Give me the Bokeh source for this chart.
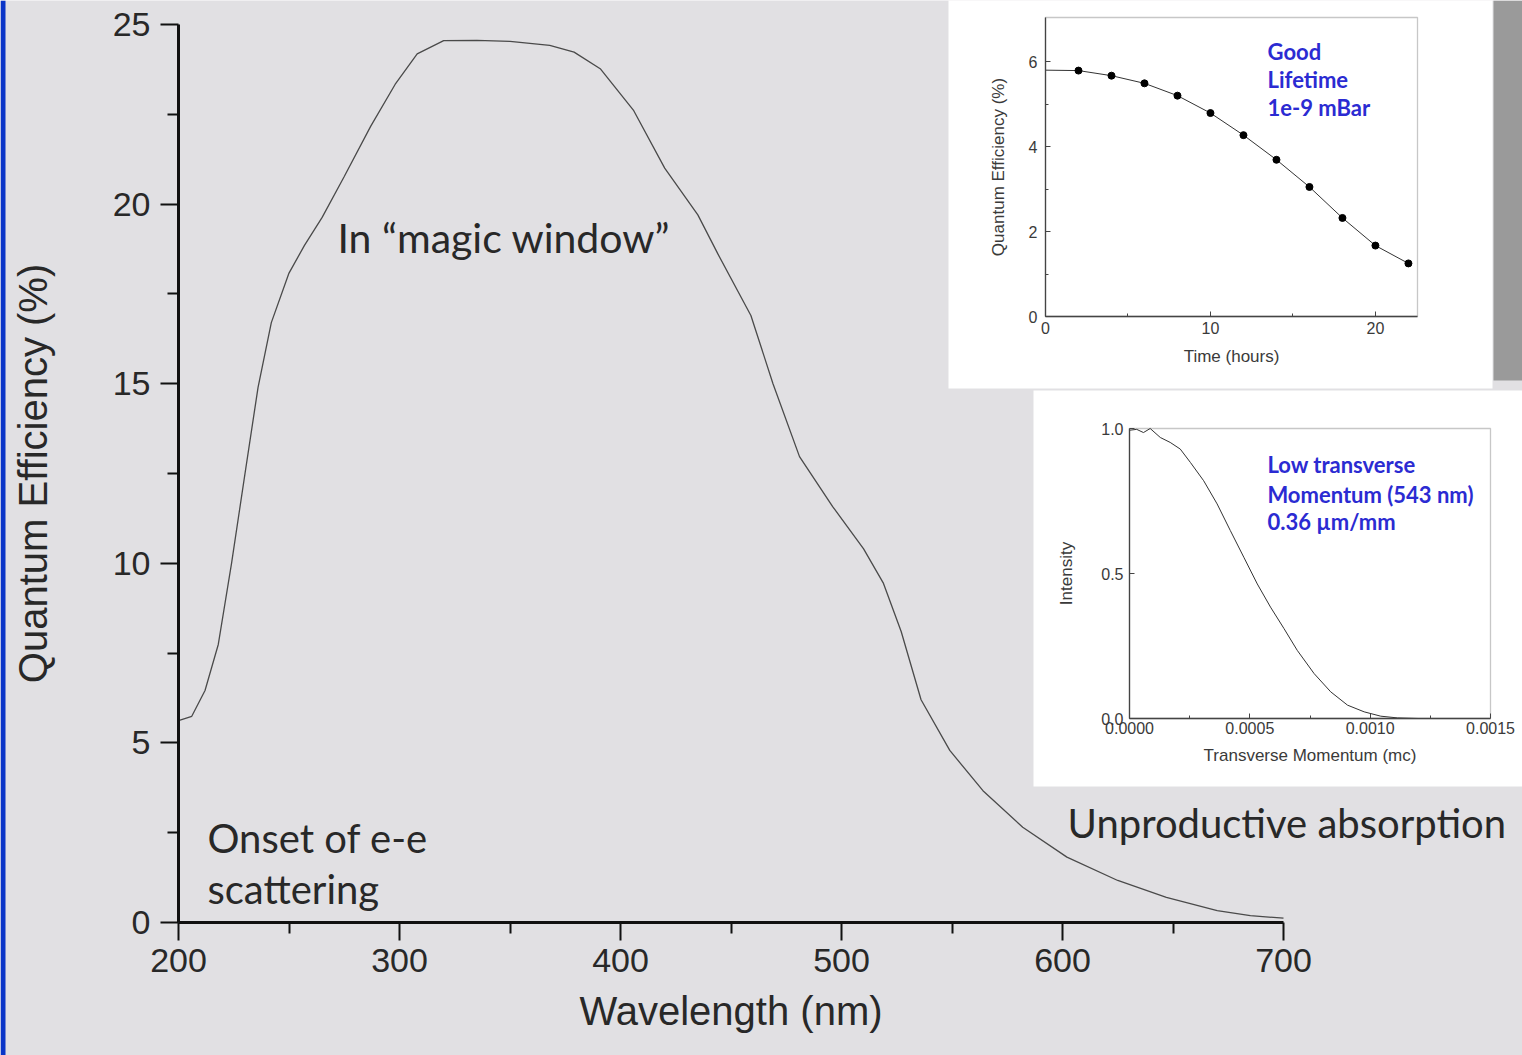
from bokeh.plotting import figure
from bokeh.models import (Label, FixedTicker, PrintfTickFormatter, LinearAxis,
                          Range1d, BoxAnnotation)
from bokeh.embed import file_html
from bokeh.resources import INLINE

# ---------------- data ----------------
# main chart: quantum efficiency vs wavelength
wavelength = [200, 206, 212, 218, 224, 230, 236, 242, 250, 257, 265, 275, 287, 298,
              308, 320, 335, 350, 368, 379, 391, 406, 420, 435, 444, 459, 469, 481,
              496, 510, 519, 527, 536, 549, 564, 582, 602, 625, 647, 670, 685, 700]
qe = [5.62, 5.74, 6.46, 7.74, 10.0, 12.46, 14.9, 16.7, 18.08, 18.85, 19.63, 20.77,
      22.17, 23.33, 24.18, 24.55, 24.56, 24.53, 24.42, 24.23, 23.76, 22.6, 21.0,
      19.7, 18.62, 16.9, 15.0, 12.97, 11.58, 10.4, 9.44, 8.1, 6.2, 4.79, 3.67,
      2.65, 1.82, 1.17, 0.7, 0.33, 0.19, 0.12]
x_ticks = [200, 300, 400, 500, 600, 700]
x_minor = [250, 350, 450, 550, 650]
y_ticks = [0, 5, 10, 15, 20, 25]
y_minor = [2.5, 7.5, 12.5, 17.5, 22.5]

# inset 1: lifetime
time_h = [2, 4, 6, 8, 10, 12, 14, 16, 18, 20, 22]
qe_life = [5.79, 5.67, 5.49, 5.2, 4.79, 4.27, 3.69, 3.05, 2.32, 1.67, 1.25]
line_time = [0, 2, 4, 6, 8, 10, 12, 14, 16, 18, 20, 22]
line_qe = [5.8, 5.79, 5.67, 5.49, 5.2, 4.79, 4.27, 3.69, 3.05, 2.32, 1.67, 1.25]
t_ticks = [0, 10, 20]
t_minor = [5, 15]
q_ticks = [0, 2, 4, 6]
q_minor = [1, 3, 5]

# inset 2: transverse momentum
momentum = [0, 0.00003, 0.000058, 0.000086, 0.000128, 0.000169, 0.000211, 0.000253,
            0.000308, 0.000364, 0.000419, 0.000475, 0.000531, 0.000586, 0.000642,
            0.000697, 0.000767, 0.000836, 0.000906, 0.000975, 0.001044, 0.001114,
            0.0012, 0.0013]
intensity = [0.994, 0.997, 0.986, 1.0, 0.969, 0.952, 0.929, 0.883, 0.82, 0.74, 0.648,
             0.556, 0.464, 0.384, 0.31, 0.235, 0.155, 0.092, 0.046, 0.023, 0.008,
             0.002, 0.0, 0.0]
m_ticks = [0, 0.0005, 0.001, 0.0015]
m_minor = [0.00025, 0.00075, 0.00125]
i_ticks = [0, 0.5, 1.0]

# ---------------- layout constants (pixels in the figure) ----------------
FIG_W, FIG_H = 1522, 1055
BG = "#e1e0e3"
TXT = "#282828"
BLUE = "#2b2bd2"


def xrange_for(v0, v1, p0, p1):
    k = (v1 - v0) / (p1 - p0)
    start = v0 - p0 * k
    return Range1d(start=start, end=start + FIG_W * k)


def yrange_for(v0, v1, p0, p1):
    # v0 at pixel p0 (lower on screen), v1 at pixel p1 (higher on screen)
    k = (v1 - v0) / (p0 - p1)
    return Range1d(start=v0 + (p0 - FIG_H) * k, end=v0 + p0 * k)


# main frame: 200..700 nm at x 178..1283, 0..25 % at y 922..24
main_x = xrange_for(200, 700, 178, 1283)
main_y = yrange_for(0, 25, 922, 24)
k_mx = (700 - 200) / (1283 - 178)
k_my = 25 / (922 - 24)

p = figure(width=FIG_W, height=FIG_H, x_range=main_x, y_range=main_y,
           output_backend="svg", toolbar_location=None,
           x_axis_location=None, y_axis_location=None,
           min_border=0, background_fill_color=BG, border_fill_color=BG,
           outline_line_color=None)
p.xgrid.visible = False
p.ygrid.visible = False

# extra ranges for the insets
p.extra_x_ranges = {"t": xrange_for(0, 22.55, 1045, 1417),
                    "m": xrange_for(0, 0.0015, 1129, 1490)}
p.extra_y_ranges = {"q": yrange_for(0, 7.04, 316, 17),
                    "i": yrange_for(0, 1.0, 718, 428)}

# slide edges: blue strip at left, dark strip at right
p.add_layout(BoxAnnotation(right=main_x.start + 5 * k_mx,
                           fill_color="#0a35c8", fill_alpha=1, line_color=None,
                           level="underlay"))
p.add_layout(BoxAnnotation(left=main_x.start + 1493 * k_mx,
                           bottom=main_y.end - 380 * k_my,
                           fill_color="#9a9a9a", fill_alpha=1, line_color=None,
                           level="underlay"))

# ---------------- main chart ----------------
p.line(wavelength, qe, line_color="#4a4a4a", line_width=1.3)

xax = LinearAxis(fixed_location=0, bounds=(200, 700))
yax = LinearAxis(fixed_location=200, bounds=(0, 25))
for ax in (xax, yax):
    ax.axis_line_width = 3
    ax.axis_line_color = "#111111"
    ax.major_tick_line_width = 2
    ax.minor_tick_line_width = 2
    ax.major_tick_line_color = "#111111"
    ax.minor_tick_line_color = "#111111"
    ax.major_tick_in = 0
    ax.major_tick_out = 18
    ax.minor_tick_in = 0
    ax.minor_tick_out = 11
    ax.major_label_text_font = "Liberation Sans"
    ax.major_label_text_font_size = "34px"
    ax.major_label_text_color = TXT
    ax.axis_label_text_font = "Liberation Sans"
    ax.axis_label_text_font_size = "40px"
    ax.axis_label_text_font_style = "normal"
    ax.axis_label_text_color = TXT
xax.ticker = FixedTicker(ticks=x_ticks, minor_ticks=x_minor)
yax.ticker = FixedTicker(ticks=y_ticks, minor_ticks=y_minor)
xax.axis_label = "Wavelength (nm)"
yax.axis_label = "Quantum Efficiency (%)"
xax.major_label_standoff = 8
xax.axis_label_standoff = 14
yax.major_label_standoff = 10
yax.axis_label_standoff = 55
p.add_layout(xax, "below")
p.add_layout(yax, "left")

ann = dict(text_font="Lato", text_color=TXT, text_baseline="middle", text_align="left")
p.add_layout(Label(x=271.9, y=19.07, text="In \u201cmagic window\u201d",
                   text_font_size="41px", **ann))
p.add_layout(Label(x=213.1, y=2.34, text="Onset of e-e", text_font_size="40px", **ann))
p.add_layout(Label(x=213.1, y=0.92, text="scattering", text_font_size="40px", **ann))
p.add_layout(Label(x=602.3, y=2.76, text="Unproductive absorption",
                   text_font_size="40px", **ann))


def inset_axes(xname, yname, xb, yb, tick_size, label_size):
    bx = LinearAxis(x_range_name=xname, y_range_name=yname, fixed_location=0, bounds=xb)
    by = LinearAxis(x_range_name=xname, y_range_name=yname, fixed_location=0, bounds=yb)
    for ax in (bx, by):
        ax.axis_line_color = "#444444"
        ax.axis_line_width = 1.3
        ax.major_tick_line_color = "#444444"
        ax.minor_tick_line_color = "#444444"
        ax.major_tick_in = 5
        ax.major_tick_out = 0
        ax.minor_tick_in = 3
        ax.minor_tick_out = 0
        ax.major_label_text_font = "Liberation Sans"
        ax.major_label_text_font_size = tick_size
        ax.major_label_text_color = "#3a3a3a"
        ax.axis_label_text_font = "Liberation Sans"
        ax.axis_label_text_font_size = label_size
        ax.axis_label_text_font_style = "normal"
        ax.axis_label_text_color = "#3a3a3a"
    return bx, by


# ---------------- inset 1: lifetime ----------------
kt = 22.55 / (1417 - 1045)
kq = 7.04 / (316 - 17)
p.add_layout(BoxAnnotation(left=(948 - 1045) * kt, right=(1492 - 1045) * kt,
                           bottom=(316 - 388) * kq, top=(316 + 5) * kq,
                           x_range_name="t", y_range_name="q",
                           fill_color="white", fill_alpha=1, line_color=None,
                           level="underlay"))
p.add_layout(BoxAnnotation(left=0, right=22.55, bottom=0, top=7.04,
                           x_range_name="t", y_range_name="q",
                           fill_alpha=0, line_color="#444444", line_width=1.3,
                           level="underlay"))
bx1, by1 = inset_axes("t", "q", (0, 22.55), (0, 7.04), "16px", "17px")
bx1.ticker = FixedTicker(ticks=t_ticks, minor_ticks=t_minor)
by1.ticker = FixedTicker(ticks=q_ticks, minor_ticks=q_minor)
bx1.axis_label = "Time (hours)"
by1.axis_label = "Quantum Efficiency (%)"
bx1.major_label_standoff = 5
bx1.axis_label_standoff = 10
by1.major_label_standoff = 8
by1.axis_label_standoff = 18
p.add_layout(bx1, "below")
p.add_layout(by1, "left")
p.line(line_time, line_qe, line_color="#333333", line_width=1,
       x_range_name="t", y_range_name="q")
p.scatter(time_h, qe_life, size=7, fill_color="black", line_color="black",
          x_range_name="t", y_range_name="q")
blue = dict(text_font="Lato", text_font_size="22px", text_font_style="bold",
            text_color=BLUE, text_baseline="middle", text_align="left",
            x_range_name="t", y_range_name="q")
p.add_layout(Label(x=13.46, y=6.25, text="Good", **blue))
p.add_layout(Label(x=13.46, y=5.57, text="Lifetime", **blue))
p.add_layout(Label(x=13.46, y=4.92, text="1e-9 mBar", **blue))

# ---------------- inset 2: transverse momentum ----------------
km = 0.0015 / (1490 - 1129)
ki = 1.0 / (718 - 428)
p.add_layout(BoxAnnotation(left=(1033 - 1129) * km, right=(FIG_W + 5 - 1129) * km,
                           bottom=(718 - 786) * ki, top=(718 - 390) * ki,
                           x_range_name="m", y_range_name="i",
                           fill_color="white", fill_alpha=1, line_color=None,
                           level="underlay"))
p.add_layout(BoxAnnotation(left=0, right=0.0015, bottom=0, top=1.0,
                           x_range_name="m", y_range_name="i",
                           fill_alpha=0, line_color="#444444", line_width=1.3,
                           level="underlay"))
bx2, by2 = inset_axes("m", "i", (0, 0.0015), (0, 1.0), "16px", "17px")
bx2.ticker = FixedTicker(ticks=m_ticks, minor_ticks=m_minor)
by2.ticker = FixedTicker(ticks=i_ticks)
bx2.formatter = PrintfTickFormatter(format="%.4f")
by2.formatter = PrintfTickFormatter(format="%.1f")
bx2.axis_label = "Transverse Momentum (mc)"
by2.axis_label = "Intensity"
bx2.major_label_standoff = 3
bx2.axis_label_standoff = 9
by2.major_label_standoff = 6
by2.axis_label_standoff = 22
p.add_layout(bx2, "below")
p.add_layout(by2, "left")
p.line(momentum, intensity, line_color="#333333", line_width=1,
       x_range_name="m", y_range_name="i")
blue2 = dict(blue, x_range_name="m", y_range_name="i")
p.add_layout(Label(x=0.000573, y=0.876, text="Low transverse", **blue2))
p.add_layout(Label(x=0.000573, y=0.772, text="Momentum (543 nm)", **blue2))
p.add_layout(Label(x=0.000573, y=0.679, text="0.36 \u00b5m/mm", **blue2))

open("out.html", "w").write(file_html(p, INLINE))
